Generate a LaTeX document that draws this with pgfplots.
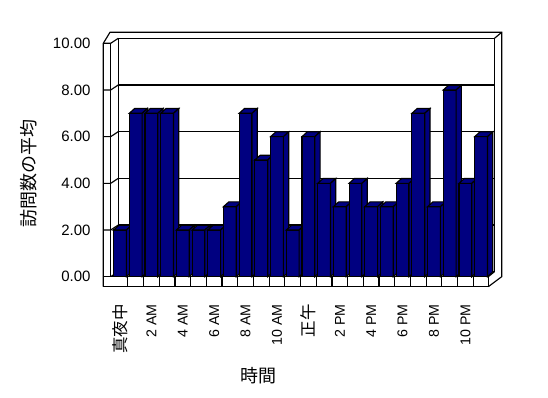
\documentclass[border=0pt]{standalone}
\usepackage{fontspec}
\setmainfont{Liberation Sans}
\newfontfamily\jp{Noto Sans CJK JP}
\usepackage{pgfplots}
\pgfplotsset{compat=1.18}
\definecolor{barnavy}{RGB}{0,0,128}
\newcommand\jpt{\jp\fontsize{16.5bp}{19bp}\selectfont}

% 3D column drawn around the data point (top centre of the front face)
\pgfdeclareplotmark{box3d}{%
  \pgfmathsetlengthmacro\barH{\val*23.34bp}%
  \pgfpathrectanglecorners{\pgfpoint{-6.4bp}{-\barH}}{\pgfpoint{6.4bp}{0pt}}%
  \pgfusepath{fill,stroke}%
  \pgfpathmoveto{\pgfpoint{-6.4bp}{0pt}}%
  \pgfpathlineto{\pgfpoint{-1.1bp}{4.8bp}}%
  \pgfpathlineto{\pgfpoint{11.7bp}{4.8bp}}%
  \pgfpathlineto{\pgfpoint{6.4bp}{0pt}}%
  \pgfpathclose
  \pgfusepath{fill,stroke}%
  \pgfpathmoveto{\pgfpoint{6.4bp}{0pt}}%
  \pgfpathlineto{\pgfpoint{11.7bp}{4.8bp}}%
  \pgfpathlineto{\pgfpoint{11.7bp}{4.8bp-\barH}}%
  \pgfpathlineto{\pgfpoint{6.4bp}{-\barH}}%
  \pgfpathclose
  \pgfusepath{fill,stroke}%
}

\begin{document}
\begin{tikzpicture}
\path[use as bounding box] (-112.15bp,-121.3bp) rectangle (435.85bp,276.7bp);

% ---- walls and floor (image pixel coordinates) ----
\begin{scope}[x=1bp, y=-1bp, shift={(-112.15bp,276.7bp)}, line width=1.15bp, line join=miter]
  % back wall
  \draw[fill=white] (118.3,38.3) rectangle (494.5,271.7);
  \foreach \v in {2,4,6,8} \draw (118.3,271.7-23.34*\v) -- (494.5,271.7-23.34*\v);
  % outer frame
  \draw (103.3,286.7) -- (103.3,43.3) -- (110,32.3) -- (501.7,32.3) -- (501.7,276.7) -- (488.3,286.7);
  \draw (494.5,38.3) -- (501.7,32.3);
  \draw (110.7,43.3) -- (110.7,276.7);
  % ticks on the left wall
  \foreach \v in {0,2,4,6,8,10}
    \draw (103.3,276.7-23.34*\v) -- (110.7,276.7-23.34*\v) -- (118.3,271.7-23.34*\v);
  % floor
  \draw (488.3,276.7) -- (494.5,271.7);
  \draw[fill=white] (103.3,276.7) rectangle (488.3,286.7);
  \foreach \k in {0,...,22} \draw (127.85+15.7*\k,276.7) -- ++(0,10);
\end{scope}

\begin{axis}[
  x=15.7bp, y=23.34bp,
  xmin=-0.5, xmax=23.5, ymin=0, ymax=10,
  clip=false,
  axis line style={draw=none},
  tick style={draw=none},
  major tick length=0pt,
  /pgf/number format/assume math mode=true,
  ytick={0,2,4,6,8,10},
  yticklabel style={anchor=east, inner sep=0pt,
    font=\fontsize{15bp}{18bp}\selectfont,
    /pgf/number format/fixed, /pgf/number format/fixed zerofill,
    /pgf/number format/precision=2},
  yticklabel shift=21.45bp,
  xtick={0,2,4,6,8,10,12,14,16,18,20,22},
  xticklabels={{\jpt 真夜中},2 AM,4 AM,6 AM,8 AM,10 AM,{\jpt 正午},2 PM,4 PM,6 PM,8 PM,10 PM},
  xticklabel style={rotate=90, anchor=east, inner sep=0pt, xshift=-1.5bp,
    font=\fontsize{14.2bp}{16bp}\selectfont},
  xticklabel shift=26bp,
  xlabel={\jp 時間},
  ylabel={\jp 訪問数の平均},
  every axis x label/.style={at={(rel axis cs:0.3897,-0.4233)}, anchor=center, inner sep=0pt,
    font=\fontsize{18bp}{20bp}\selectfont},
  every axis y label/.style={at={(rel axis cs:-0.222,0.444)}, rotate=90, anchor=center, inner sep=0pt,
    font=\fontsize{18bp}{20bp}\selectfont},
]
\addplot[ybar, bar width=12.8bp, fill=barnavy, draw=black, line width=1.15bp]
  coordinates {(0,2) (1,7) (2,7) (3,7) (4,2) (5,2) (6,2) (7,3) (8,7) (9,5) (10,6) (11,2)
               (12,6) (13,4) (14,3) (15,4) (16,3) (17,3) (18,4) (19,7) (20,3) (21,8) (22,4) (23,6)};
\addplot[scatter, only marks, mark=box3d,
  visualization depends on={y \as \val},
  scatter/@pre marker code/.code={\pgfscope},
  scatter/@post marker code/.code={\endpgfscope},
  mark options={fill=barnavy, draw=black, line width=1.15bp, line join=miter}]
  coordinates {(0,2) (1,7) (2,7) (3,7) (4,2) (5,2) (6,2) (7,3) (8,7) (9,5) (10,6) (11,2)
               (12,6) (13,4) (14,3) (15,4) (16,3) (17,3) (18,4) (19,7) (20,3) (21,8) (22,4) (23,6)};
\end{axis}
\end{tikzpicture}
\end{document}
